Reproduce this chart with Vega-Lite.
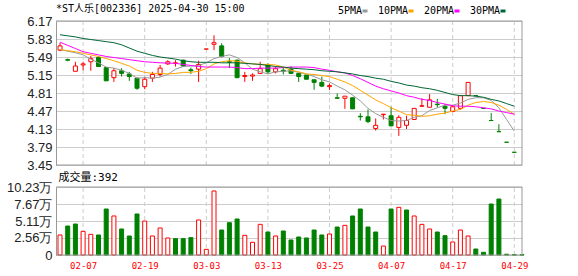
{
  "$schema": "https://vega.github.io/schema/vega-lite/v6.json",
  "width": 466,
  "height": 234,
  "autosize": {"type": "none"},
  "padding": {"left": 56, "top": 21, "right": 56, "bottom": 21},
  "background": "#ffffff",
  "title": {"text": "*ST人乐[002336] 2025-04-30 15:00", "anchor": "start", "frame": "group", "baseline": "middle", "offset": -13, "font": "DejaVu Sans Mono, Noto Sans CJK SC, monospace", "fontSize": 10, "fontWeight": "normal", "color": "#000000"},
  "config": {"view": {"stroke": null}, "axis": {"labelOverlap": false}},
  "data": {"values": [
    {"d":"01-27","o":5.62,"h":5.76,"l":5.60,"c":5.70,"v":3.01,"5PMA":5.63,"10PMA":5.63,"20PMA":5.77,"30PMA":5.91},
    {"d":"02-05","o":5.44,"h":5.46,"l":5.41,"c":5.43,"v":4.36,"5PMA":5.60,"10PMA":5.61,"20PMA":5.71,"30PMA":5.89},
    {"d":"02-06","o":5.22,"h":5.40,"l":5.22,"c":5.32,"v":4.66,"5PMA":5.57,"10PMA":5.59,"20PMA":5.65,"30PMA":5.87},
    {"d":"02-07","o":5.34,"h":5.40,"l":5.24,"c":5.36,"v":3.56,"5PMA":5.53,"10PMA":5.56,"20PMA":5.59,"30PMA":5.84},
    {"d":"02-10","o":5.40,"h":5.51,"l":5.23,"c":5.46,"v":3.11,"5PMA":5.45,"10PMA":5.53,"20PMA":5.56,"30PMA":5.82},
    {"d":"02-11","o":5.48,"h":5.50,"l":5.30,"c":5.31,"v":3.01,"5PMA":5.38,"10PMA":5.50,"20PMA":5.53,"30PMA":5.80},
    {"d":"02-12","o":5.29,"h":5.29,"l":5.04,"c":5.04,"v":6.92,"5PMA":5.30,"10PMA":5.46,"20PMA":5.50,"30PMA":5.78},
    {"d":"02-13","o":5.10,"h":5.28,"l":5.02,"c":5.23,"v":5.87,"5PMA":5.28,"10PMA":5.42,"20PMA":5.48,"30PMA":5.76},
    {"d":"02-14","o":5.23,"h":5.28,"l":5.12,"c":5.18,"v":3.91,"5PMA":5.24,"10PMA":5.37,"20PMA":5.46,"30PMA":5.72},
    {"d":"02-17","o":5.17,"h":5.21,"l":5.04,"c":5.12,"v":2.86,"5PMA":5.18,"10PMA":5.32,"20PMA":5.44,"30PMA":5.66},
    {"d":"02-18","o":5.09,"h":5.10,"l":4.87,"c":4.90,"v":6.17,"5PMA":5.09,"10PMA":5.24,"20PMA":5.42,"30PMA":5.60},
    {"d":"02-19","o":4.93,"h":5.12,"l":4.88,"c":5.07,"v":5.11,"5PMA":5.10,"10PMA":5.20,"20PMA":5.40,"30PMA":5.56},
    {"d":"02-20","o":5.09,"h":5.21,"l":5.02,"c":5.16,"v":2.86,"5PMA":5.09,"10PMA":5.18,"20PMA":5.39,"30PMA":5.52},
    {"d":"02-21","o":5.16,"h":5.34,"l":5.12,"c":5.28,"v":4.06,"5PMA":5.11,"10PMA":5.18,"20PMA":5.38,"30PMA":5.49},
    {"d":"02-24","o":5.36,"h":5.43,"l":5.34,"c":5.40,"v":2.56,"5PMA":5.16,"10PMA":5.17,"20PMA":5.375,"30PMA":5.47},
    {"d":"02-25","o":5.37,"h":5.43,"l":5.31,"c":5.38,"v":2.46,"5PMA":5.26,"10PMA":5.18,"20PMA":5.37,"30PMA":5.45},
    {"d":"02-26","o":5.43,"h":5.44,"l":5.31,"c":5.32,"v":2.46,"5PMA":5.31,"10PMA":5.20,"20PMA":5.35,"30PMA":5.42},
    {"d":"02-27","o":5.25,"h":5.29,"l":5.17,"c":5.23,"v":2.61,"5PMA":5.32,"10PMA":5.20,"20PMA":5.33,"30PMA":5.40},
    {"d":"02-28","o":5.26,"h":5.42,"l":5.02,"c":5.35,"v":5.27,"5PMA":5.33,"10PMA":5.22,"20PMA":5.31,"30PMA":5.39},
    {"d":"03-03","o":5.64,"h":5.64,"l":5.64,"c":5.64,"v":0.85,"5PMA":5.38,"10PMA":5.27,"20PMA":5.30,"30PMA":5.39},
    {"d":"03-04","o":5.73,"h":5.90,"l":5.62,"c":5.76,"v":9.63,"5PMA":5.46,"10PMA":5.36,"20PMA":5.30,"30PMA":5.39},
    {"d":"03-05","o":5.70,"h":5.75,"l":5.48,"c":5.50,"v":3.76,"5PMA":5.50,"10PMA":5.40,"20PMA":5.30,"30PMA":5.38},
    {"d":"03-06","o":5.40,"h":5.47,"l":5.28,"c":5.39,"v":4.86,"5PMA":5.53,"10PMA":5.42,"20PMA":5.30,"30PMA":5.38},
    {"d":"03-07","o":5.43,"h":5.44,"l":5.09,"c":5.10,"v":5.42,"5PMA":5.48,"10PMA":5.41,"20PMA":5.29,"30PMA":5.38},
    {"d":"03-10","o":5.12,"h":5.21,"l":5.02,"c":5.14,"v":2.96,"5PMA":5.38,"10PMA":5.38,"20PMA":5.27,"30PMA":5.37},
    {"d":"03-11","o":5.13,"h":5.18,"l":5.04,"c":5.15,"v":1.91,"5PMA":5.26,"10PMA":5.36,"20PMA":5.27,"30PMA":5.36},
    {"d":"03-12","o":5.18,"h":5.40,"l":5.18,"c":5.27,"v":4.61,"5PMA":5.21,"10PMA":5.35,"20PMA":5.28,"30PMA":5.35},
    {"d":"03-13","o":5.34,"h":5.37,"l":5.18,"c":5.21,"v":3.46,"5PMA":5.17,"10PMA":5.35,"20PMA":5.28,"30PMA":5.33},
    {"d":"03-14","o":5.21,"h":5.31,"l":5.18,"c":5.27,"v":2.86,"5PMA":5.21,"10PMA":5.34,"20PMA":5.28,"30PMA":5.31},
    {"d":"03-17","o":5.24,"h":5.28,"l":5.16,"c":5.22,"v":3.61,"5PMA":5.22,"10PMA":5.30,"20PMA":5.29,"30PMA":5.30},
    {"d":"03-18","o":5.26,"h":5.31,"l":5.18,"c":5.18,"v":2.26,"5PMA":5.23,"10PMA":5.24,"20PMA":5.30,"30PMA":5.28},
    {"d":"03-19","o":5.18,"h":5.18,"l":5.02,"c":5.12,"v":2.71,"5PMA":5.20,"10PMA":5.21,"20PMA":5.30,"30PMA":5.27},
    {"d":"03-20","o":5.15,"h":5.15,"l":5.07,"c":5.07,"v":2.56,"5PMA":5.17,"10PMA":5.17,"20PMA":5.30,"30PMA":5.26},
    {"d":"03-21","o":5.06,"h":5.06,"l":4.87,"c":5.01,"v":3.76,"5PMA":5.12,"10PMA":5.16,"20PMA":5.29,"30PMA":5.25},
    {"d":"03-24","o":5.01,"h":5.12,"l":4.92,"c":4.94,"v":3.01,"5PMA":5.06,"10PMA":5.14,"20PMA":5.26,"30PMA":5.23},
    {"d":"03-25","o":4.93,"h":4.99,"l":4.87,"c":4.95,"v":3.16,"5PMA":5.02,"10PMA":5.12,"20PMA":5.24,"30PMA":5.22},
    {"d":"03-26","o":4.72,"h":4.80,"l":4.71,"c":4.71,"v":4.21,"5PMA":4.94,"10PMA":5.07,"20PMA":5.21,"30PMA":5.21},
    {"d":"03-27","o":4.71,"h":4.75,"l":4.51,"c":4.75,"v":4.46,"5PMA":4.87,"10PMA":5.02,"20PMA":5.19,"30PMA":5.19},
    {"d":"03-28","o":4.72,"h":4.72,"l":4.51,"c":4.51,"v":5.87,"5PMA":4.77,"10PMA":4.95,"20PMA":5.14,"30PMA":5.17},
    {"d":"03-31","o":4.37,"h":4.43,"l":4.29,"c":4.36,"v":6.92,"5PMA":4.66,"10PMA":4.86,"20PMA":5.08,"30PMA":5.14},
    {"d":"04-01","o":4.36,"h":4.50,"l":4.24,"c":4.27,"v":4.21,"5PMA":4.52,"10PMA":4.77,"20PMA":5.01,"30PMA":5.12},
    {"d":"04-02","o":4.14,"h":4.33,"l":4.10,"c":4.20,"v":3.46,"5PMA":4.42,"10PMA":4.68,"20PMA":4.94,"30PMA":5.09},
    {"d":"04-03","o":4.40,"h":4.41,"l":4.31,"c":4.41,"v":1.35,"5PMA":4.35,"10PMA":4.61,"20PMA":4.89,"30PMA":5.07},
    {"d":"04-07","o":4.38,"h":4.55,"l":4.19,"c":4.19,"v":6.92,"5PMA":4.29,"10PMA":4.53,"20PMA":4.85,"30PMA":5.03},
    {"d":"04-08","o":4.16,"h":4.39,"l":4.00,"c":4.35,"v":7.17,"5PMA":4.28,"10PMA":4.47,"20PMA":4.81,"30PMA":5.00},
    {"d":"04-09","o":4.20,"h":4.38,"l":4.13,"c":4.29,"v":6.77,"5PMA":4.29,"10PMA":4.40,"20PMA":4.76,"30PMA":4.96},
    {"d":"04-10","o":4.31,"h":4.52,"l":4.31,"c":4.52,"v":5.87,"5PMA":4.35,"10PMA":4.39,"20PMA":4.73,"30PMA":4.94},
    {"d":"04-11","o":4.56,"h":4.71,"l":4.55,"c":4.57,"v":4.61,"5PMA":4.38,"10PMA":4.37,"20PMA":4.69,"30PMA":4.91},
    {"d":"04-14","o":4.54,"h":4.79,"l":4.54,"c":4.68,"v":3.91,"5PMA":4.48,"10PMA":4.38,"20PMA":4.67,"30PMA":4.89},
    {"d":"04-15","o":4.60,"h":4.70,"l":4.54,"c":4.59,"v":3.46,"5PMA":4.53,"10PMA":4.41,"20PMA":4.63,"30PMA":4.86},
    {"d":"04-16","o":4.56,"h":4.60,"l":4.41,"c":4.52,"v":2.91,"5PMA":4.58,"10PMA":4.43,"20PMA":4.60,"30PMA":4.82},
    {"d":"04-17","o":4.46,"h":4.58,"l":4.46,"c":4.55,"v":1.96,"5PMA":4.58,"10PMA":4.47,"20PMA":4.57,"30PMA":4.78},
    {"d":"04-18","o":4.52,"h":4.76,"l":4.50,"c":4.76,"v":3.76,"5PMA":4.62,"10PMA":4.50,"20PMA":4.56,"30PMA":4.76},
    {"d":"04-21","o":4.76,"h":5.01,"l":4.76,"c":5.01,"v":2.86,"5PMA":4.69,"10PMA":4.58,"20PMA":4.56,"30PMA":4.76},
    {"d":"04-22","o":4.76,"h":4.76,"l":4.76,"c":4.76,"v":0.90,"5PMA":4.72,"10PMA":4.63,"20PMA":4.55,"30PMA":4.75},
    {"d":"04-23","o":4.52,"h":4.52,"l":4.52,"c":4.52,"v":0.40,"5PMA":4.72,"10PMA":4.65,"20PMA":4.53,"30PMA":4.73},
    {"d":"04-24","o":4.29,"h":4.43,"l":4.29,"c":4.29,"v":7.67,"5PMA":4.67,"10PMA":4.63,"20PMA":4.51,"30PMA":4.69},
    {"d":"04-25","o":4.08,"h":4.22,"l":4.08,"c":4.08,"v":8.42,"5PMA":4.53,"10PMA":4.58,"20PMA":4.47,"30PMA":4.66},
    {"d":"04-28","o":3.88,"h":3.88,"l":3.88,"c":3.88,"v":0.12,"5PMA":4.31,"10PMA":4.50,"20PMA":4.44,"30PMA":4.61},
    {"d":"04-29","o":3.69,"h":3.69,"l":3.69,"c":3.69,"v":0.06,"5PMA":4.09,"10PMA":4.41,"20PMA":4.41,"30PMA":4.56},
    {"d":"04-30","v":0.0392}
  ]},
  "transform": [
    {"window": [{"op": "lag", "field": "c", "as": "pc"}], "sort": [{"field": "d"}]},
    {"calculate": "datum.c > datum.o || (datum.c == datum.o && datum.c >= datum.pc)", "as": "up"},
    {"calculate": "datum.pc == null || datum.c >= datum.pc", "as": "vup"}
  ],
  "layer": [
    {
      "layer": [
        {
          "transform": [{"filter": "indexof(['02-07','02-19','03-03','03-13','03-25','04-07','04-17','04-29'], datum.d) >= 0"}],
          "mark": {"type": "rule", "stroke": "#cccccc", "strokeDash": [4, 3], "strokeWidth": 1},
          "encoding": {
            "x": {"field": "d", "type": "ordinal", "scale": {"type": "point", "padding": 0.26, "align": 1},
                  "axis": {"values": ["02-07","02-19","03-03","03-13","03-25","04-07","04-17","04-29"], "title": null, "domain": false, "ticks": false, "grid": false, "labelAngle": 0, "labelColor": "#ff0000", "labelFont": "DejaVu Sans Mono, monospace", "labelFontSize": 9, "labelPadding": 6, "labelBaseline": "top", "labelOverlap": false}},
            "y": {"datum": 3.45, "type": "quantitative",
                  "scale": {"domain": [3.45, 6.17], "range": [144, 0], "nice": false, "zero": false},
                  "axis": {"values": [3.45, 3.79, 4.13, 4.47, 4.81, 5.15, 5.49, 5.83, 6.17], "format": ".2f", "orient": "left", "title": null, "grid": true, "gridColor": "#cccccc", "gridWidth": 1, "domainColor": "#999999", "ticks": false, "labelFont": "Liberation Sans, Arial, sans-serif", "labelFontSize": 13, "labelColor": "#222222", "labelPadding": 4, "labelBaseline": "middle", "labelOverlap": false}},
            "y2": {"datum": 6.17}
          }
        },
        {
          "mark": {"type": "rule", "strokeWidth": 1},
          "encoding": {
            "x": {"field": "d", "type": "ordinal",
                  "axis": {"values": ["02-07","02-19","03-03","03-13","03-25","04-07","04-17","04-29"], "title": null, "domain": false, "ticks": false, "grid": false, "labelAngle": 0, "labelColor": "#ff0000", "labelFont": "DejaVu Sans Mono, monospace", "labelFontSize": 9, "labelPadding": 6, "labelBaseline": "top", "labelOverlap": false}},
            "y": {"field": "l", "type": "quantitative",
                  "axis": {"values": [3.45, 3.79, 4.13, 4.47, 4.81, 5.15, 5.49, 5.83, 6.17], "format": ".2f", "orient": "left", "title": null, "grid": true, "gridColor": "#cccccc", "gridWidth": 1, "domainColor": "#999999", "ticks": false, "labelFont": "Liberation Sans, Arial, sans-serif", "labelFontSize": 13, "labelColor": "#222222", "labelPadding": 4, "labelBaseline": "middle", "labelOverlap": false}},
            "y2": {"field": "h"},
            "color": {"condition": {"test": "datum.up", "value": "#ff0000"}, "value": "#008000"}
          }
        },
        {
          "mark": {"type": "bar", "width": 4, "strokeWidth": 1},
          "encoding": {
            "x": {"field": "d", "type": "ordinal",
                  "axis": {"values": ["02-07","02-19","03-03","03-13","03-25","04-07","04-17","04-29"], "title": null, "domain": false, "ticks": false, "grid": false, "labelAngle": 0, "labelColor": "#ff0000", "labelFont": "DejaVu Sans Mono, monospace", "labelFontSize": 9, "labelPadding": 6, "labelBaseline": "top", "labelOverlap": false}},
            "y": {"field": "o", "type": "quantitative",
                  "axis": {"values": [3.45, 3.79, 4.13, 4.47, 4.81, 5.15, 5.49, 5.83, 6.17], "format": ".2f", "orient": "left", "title": null, "grid": true, "gridColor": "#cccccc", "gridWidth": 1, "domainColor": "#999999", "ticks": false, "labelFont": "Liberation Sans, Arial, sans-serif", "labelFontSize": 13, "labelColor": "#222222", "labelPadding": 4, "labelBaseline": "middle", "labelOverlap": false}},
            "y2": {"field": "c"},
            "fill": {"condition": {"test": "datum.up", "value": "#ffffff"}, "value": "#008000"},
            "stroke": {"condition": {"test": "datum.up", "value": "#ff0000"}, "value": "#008000"}
          }
        },
        {
          "transform": [{"fold": ["5PMA", "10PMA", "20PMA", "30PMA"], "as": ["s", "mv"]}],
          "mark": {"type": "line", "strokeWidth": 1},
          "encoding": {
            "x": {"field": "d", "type": "ordinal",
                  "axis": {"values": ["02-07","02-19","03-03","03-13","03-25","04-07","04-17","04-29"], "title": null, "domain": false, "ticks": false, "grid": false, "labelAngle": 0, "labelColor": "#ff0000", "labelFont": "DejaVu Sans Mono, monospace", "labelFontSize": 9, "labelPadding": 6, "labelBaseline": "top", "labelOverlap": false}},
            "y": {"field": "mv", "type": "quantitative",
                  "axis": {"values": [3.45, 3.79, 4.13, 4.47, 4.81, 5.15, 5.49, 5.83, 6.17], "format": ".2f", "orient": "left", "title": null, "grid": true, "gridColor": "#cccccc", "gridWidth": 1, "domainColor": "#999999", "ticks": false, "labelFont": "Liberation Sans, Arial, sans-serif", "labelFontSize": 13, "labelColor": "#222222", "labelPadding": 4, "labelBaseline": "middle", "labelOverlap": false}},
            "stroke": {"field": "s", "type": "nominal",
                       "scale": {"domain": ["5PMA", "10PMA", "20PMA", "30PMA"], "range": ["#999999", "#ffa500", "#ff00ff", "#006633"]},
                       "legend": {"orient": "none", "legendX": 304, "legendY": -15, "direction": "horizontal", "title": null, "symbolType": "stroke", "symbolStrokeWidth": 3, "symbolSize": 25, "labelFont": "DejaVu Sans Mono, monospace", "labelFontSize": 10, "labelColor": "#000000", "labelAlign": "right", "labelOffset": -8, "columnPadding": 3, "padding": 0}}
          }
        },
        {
          "data": {"values": [{}]},
          "mark": {"type": "rule", "stroke": "#999999", "strokeWidth": 1},
          "encoding": {"y": {"datum": 6.17, "type": "quantitative",
                  "axis": {"values": [3.45, 3.79, 4.13, 4.47, 4.81, 5.15, 5.49, 5.83, 6.17], "format": ".2f", "orient": "left", "title": null, "grid": true, "gridColor": "#cccccc", "gridWidth": 1, "domainColor": "#999999", "ticks": false, "labelFont": "Liberation Sans, Arial, sans-serif", "labelFontSize": 13, "labelColor": "#222222", "labelPadding": 4, "labelBaseline": "middle", "labelOverlap": false}}}
        },
        {
          "data": {"values": [{}]},
          "mark": {"type": "rule", "stroke": "#999999", "strokeWidth": 1},
          "encoding": {"y": {"datum": 3.45, "type": "quantitative",
                  "axis": {"values": [3.45, 3.79, 4.13, 4.47, 4.81, 5.15, 5.49, 5.83, 6.17], "format": ".2f", "orient": "left", "title": null, "grid": true, "gridColor": "#cccccc", "gridWidth": 1, "domainColor": "#999999", "ticks": false, "labelFont": "Liberation Sans, Arial, sans-serif", "labelFontSize": 13, "labelColor": "#222222", "labelPadding": 4, "labelBaseline": "middle", "labelOverlap": false}}}
        },
        {
          "data": {"values": [{}]},
          "mark": {"type": "rule", "stroke": "#999999", "strokeWidth": 1},
          "encoding": {
            "x": {"datum": "04-30", "type": "ordinal",
                  "axis": {"values": ["02-07","02-19","03-03","03-13","03-25","04-07","04-17","04-29"], "title": null, "domain": false, "ticks": false, "grid": false, "labelAngle": 0, "labelColor": "#ff0000", "labelFont": "DejaVu Sans Mono, monospace", "labelFontSize": 9, "labelPadding": 6, "labelBaseline": "top", "labelOverlap": false}},
            "y": {"datum": 3.45, "type": "quantitative",
                  "axis": {"values": [3.45, 3.79, 4.13, 4.47, 4.81, 5.15, 5.49, 5.83, 6.17], "format": ".2f", "orient": "left", "title": null, "grid": true, "gridColor": "#cccccc", "gridWidth": 1, "domainColor": "#999999", "ticks": false, "labelFont": "Liberation Sans, Arial, sans-serif", "labelFontSize": 13, "labelColor": "#222222", "labelPadding": 4, "labelBaseline": "middle", "labelOverlap": false}},
            "y2": {"datum": 6.17}
          }
        }
      ]
    },
    {
      "layer": [
        {
          "transform": [{"filter": "indexof(['02-07','02-19','03-03','03-13','03-25','04-07','04-17','04-29'], datum.d) >= 0"}],
          "mark": {"type": "rule", "stroke": "#cccccc", "strokeDash": [4, 3], "strokeWidth": 1},
          "encoding": {
            "x": {"field": "d", "type": "ordinal",
                  "axis": {"values": ["02-07","02-19","03-03","03-13","03-25","04-07","04-17","04-29"], "title": null, "domain": false, "ticks": false, "grid": false, "labelAngle": 0, "labelColor": "#ff0000", "labelFont": "DejaVu Sans Mono, monospace", "labelFontSize": 9, "labelPadding": 6, "labelBaseline": "top", "labelOverlap": false}},
            "y": {"datum": 0, "type": "quantitative",
                  "scale": {"domain": [0, 10.23], "range": [234, 166], "nice": false, "zero": true},
                  "axis": {"values": [0, 2.56, 5.11, 7.67, 10.23], "labelExpr": "datum.value == 0 ? '0' : format(datum.value, '.2f') + '万'", "orient": "left", "title": "成交量:392", "titleAngle": 0, "titleX": 2, "titleY": 156, "titleAlign": "left", "titleBaseline": "middle", "titleFont": "DejaVu Sans Mono, Noto Sans CJK SC, monospace", "titleFontSize": 11, "titleFontWeight": "normal", "titleColor": "#000000", "grid": true, "gridColor": "#cccccc", "gridWidth": 1, "domainColor": "#999999", "ticks": false, "labelFont": "Liberation Sans, Arial, sans-serif", "labelFontSize": 13, "labelColor": "#222222", "labelPadding": 4, "labelBaseline": "middle", "labelOverlap": false}},
            "y2": {"datum": 10.23}
          }
        },
        {
          "mark": {"type": "bar", "width": 4, "strokeWidth": 1},
          "encoding": {
            "x": {"field": "d", "type": "ordinal",
                  "axis": {"values": ["02-07","02-19","03-03","03-13","03-25","04-07","04-17","04-29"], "title": null, "domain": false, "ticks": false, "grid": false, "labelAngle": 0, "labelColor": "#ff0000", "labelFont": "DejaVu Sans Mono, monospace", "labelFontSize": 9, "labelPadding": 6, "labelBaseline": "top", "labelOverlap": false}},
            "y": {"field": "v", "type": "quantitative", "stack": null,
                  "axis": {"values": [0, 2.56, 5.11, 7.67, 10.23], "labelExpr": "datum.value == 0 ? '0' : format(datum.value, '.2f') + '万'", "orient": "left", "title": "成交量:392", "titleAngle": 0, "titleX": 2, "titleY": 156, "titleAlign": "left", "titleBaseline": "middle", "titleFont": "DejaVu Sans Mono, Noto Sans CJK SC, monospace", "titleFontSize": 11, "titleFontWeight": "normal", "titleColor": "#000000", "grid": true, "gridColor": "#cccccc", "gridWidth": 1, "domainColor": "#999999", "ticks": false, "labelFont": "Liberation Sans, Arial, sans-serif", "labelFontSize": 13, "labelColor": "#222222", "labelPadding": 4, "labelBaseline": "middle", "labelOverlap": false}},
            "fill": {"condition": {"test": "datum.vup", "value": "#ffffff"}, "value": "#008000"},
            "stroke": {"condition": {"test": "datum.vup", "value": "#ff0000"}, "value": "#008000"}
          }
        },
        {
          "data": {"values": [{}]},
          "mark": {"type": "rule", "stroke": "#999999", "strokeWidth": 1},
          "encoding": {"y": {"datum": 10.23, "type": "quantitative",
                  "axis": {"values": [0, 2.56, 5.11, 7.67, 10.23], "labelExpr": "datum.value == 0 ? '0' : format(datum.value, '.2f') + '万'", "orient": "left", "title": "成交量:392", "titleAngle": 0, "titleX": 2, "titleY": 156, "titleAlign": "left", "titleBaseline": "middle", "titleFont": "DejaVu Sans Mono, Noto Sans CJK SC, monospace", "titleFontSize": 11, "titleFontWeight": "normal", "titleColor": "#000000", "grid": true, "gridColor": "#cccccc", "gridWidth": 1, "domainColor": "#999999", "ticks": false, "labelFont": "Liberation Sans, Arial, sans-serif", "labelFontSize": 13, "labelColor": "#222222", "labelPadding": 4, "labelBaseline": "middle", "labelOverlap": false}}}
        },
        {
          "data": {"values": [{}]},
          "mark": {"type": "rule", "stroke": "#999999", "strokeWidth": 1},
          "encoding": {"y": {"datum": 0, "type": "quantitative",
                  "axis": {"values": [0, 2.56, 5.11, 7.67, 10.23], "labelExpr": "datum.value == 0 ? '0' : format(datum.value, '.2f') + '万'", "orient": "left", "title": "成交量:392", "titleAngle": 0, "titleX": 2, "titleY": 156, "titleAlign": "left", "titleBaseline": "middle", "titleFont": "DejaVu Sans Mono, Noto Sans CJK SC, monospace", "titleFontSize": 11, "titleFontWeight": "normal", "titleColor": "#000000", "grid": true, "gridColor": "#cccccc", "gridWidth": 1, "domainColor": "#999999", "ticks": false, "labelFont": "Liberation Sans, Arial, sans-serif", "labelFontSize": 13, "labelColor": "#222222", "labelPadding": 4, "labelBaseline": "middle", "labelOverlap": false}}}
        },
        {
          "data": {"values": [{}]},
          "mark": {"type": "rule", "stroke": "#999999", "strokeWidth": 1},
          "encoding": {
            "x": {"datum": "04-30", "type": "ordinal",
                  "axis": {"values": ["02-07","02-19","03-03","03-13","03-25","04-07","04-17","04-29"], "title": null, "domain": false, "ticks": false, "grid": false, "labelAngle": 0, "labelColor": "#ff0000", "labelFont": "DejaVu Sans Mono, monospace", "labelFontSize": 9, "labelPadding": 6, "labelBaseline": "top", "labelOverlap": false}},
            "y": {"datum": 0, "type": "quantitative",
                  "axis": {"values": [0, 2.56, 5.11, 7.67, 10.23], "labelExpr": "datum.value == 0 ? '0' : format(datum.value, '.2f') + '万'", "orient": "left", "title": "成交量:392", "titleAngle": 0, "titleX": 2, "titleY": 156, "titleAlign": "left", "titleBaseline": "middle", "titleFont": "DejaVu Sans Mono, Noto Sans CJK SC, monospace", "titleFontSize": 11, "titleFontWeight": "normal", "titleColor": "#000000", "grid": true, "gridColor": "#cccccc", "gridWidth": 1, "domainColor": "#999999", "ticks": false, "labelFont": "Liberation Sans, Arial, sans-serif", "labelFontSize": 13, "labelColor": "#222222", "labelPadding": 4, "labelBaseline": "middle", "labelOverlap": false}},
            "y2": {"datum": 10.23}
          }
        }
      ]
    }
  ],
  "resolve": {"scale": {"y": "independent"}, "axis": {"y": "independent"}}
}
